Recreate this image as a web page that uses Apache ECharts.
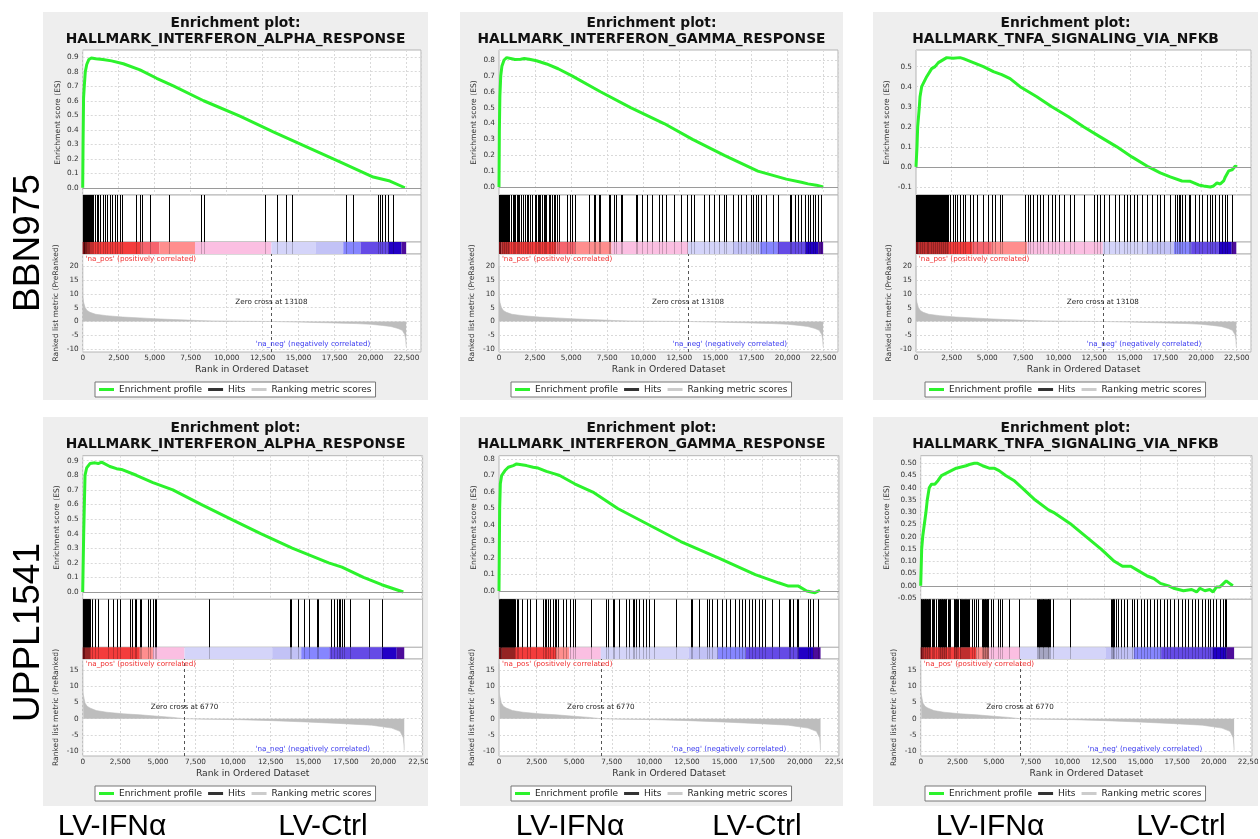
<!DOCTYPE html>
<html><head><meta charset="utf-8">
<script src="https://cdn.jsdelivr.net/npm/echarts@6/dist/echarts.min.js"></script>
<style>html,body{margin:0;padding:0;background:#fff}#c{width:1260px;height:839px}</style>
</head><body><div id="c"></div>
<script>
// ---------------- DATA ----------------
const geneSets = ['HALLMARK_INTERFERON_ALPHA_RESPONSE','HALLMARK_INTERFERON_GAMMA_RESPONSE','HALLMARK_TNFA_SIGNALING_VIA_NFKB'];
const cellLines = ['BBN975','UPPL1541'];
const groupLabels = ['LV-IFNα','LV-Ctrl'];
const zeroCross = [13108, 6770];
const legendNames = ['Enrichment profile','Hits','Ranking metric scores'];

// enrichment score curves [rank, ES]
const esBBN975_IFNA = [[0,0],[25,0.3],[60,0.62],[110,0.7],[180,0.8],[280,0.85],[430,0.885],[600,0.895],[900,0.89],[1400,0.885],[2000,0.875],[2822,0.855],[3979,0.813],[5136,0.755],[6294,0.702],[8400,0.6],[10923,0.494],[13237,0.386],[15552,0.282],[17867,0.178],[20182,0.074],[21339,0.046],[22382,0]];
const esBBN975_IFNG = [[0,0],[25,0.35],[60,0.57],[120,0.7],[200,0.76],[350,0.8],[534,0.815],[800,0.81],[1100,0.803],[1500,0.805],[1750,0.81],[2100,0.805],[2600,0.795],[3300,0.775],[4100,0.745],[5061,0.7],[7034,0.6],[9123,0.5],[11443,0.4],[13417,0.3],[15622,0.2],[17944,0.1],[19917,0.05],[20962,0.03],[21426,0.02],[22006,0.012],[22470,0]];
const esBBN975_TNFA = [[0,0],[70,0.1],[117,0.2],[234,0.3],[281,0.35],[398,0.4],[749,0.45],[1100,0.49],[1334,0.5],[1568,0.52],[2153,0.545],[2600,0.542],[3090,0.545],[3324,0.54],[4026,0.52],[4728,0.5],[5430,0.475],[6015,0.46],[6601,0.44],[7303,0.4],[8473,0.35],[9527,0.3],[10697,0.25],[11750,0.2],[12920,0.15],[14091,0.1],[15144,0.05],[16315,0],[17134,-0.03],[17836,-0.05],[18655,-0.07],[19240,-0.072],[19825,-0.09],[20176,-0.095],[20645,-0.1],[20879,-0.095],[21113,-0.08],[21347,-0.085],[21581,-0.07],[21698,-0.05],[21932,-0.02],[22166,-0.015],[22283,-0.02],[22400,0.005],[22518,0]];
const esUPPL1541_IFNA = [[0,0],[66,0.4],[155,0.8],[262,0.85],[483,0.88],[813,0.885],[1034,0.88],[1255,0.89],[1806,0.86],[2247,0.845],[2577,0.84],[3570,0.8],[4672,0.75],[5994,0.7],[7869,0.6],[9853,0.5],[11837,0.4],[13931,0.3],[16357,0.2],[17238,0.17],[18672,0.1],[19884,0.05],[21318,0]];
const esUPPL1541_IFNG = [[0,0],[44,0.5],[88,0.65],[176,0.7],[397,0.73],[617,0.75],[948,0.76],[1169,0.77],[1279,0.775],[1499,0.765],[1830,0.76],[2271,0.75],[2601,0.745],[3153,0.725],[3704,0.71],[4035,0.7],[5027,0.65],[6239,0.6],[7893,0.5],[9987,0.4],[12082,0.3],[14617,0.2],[17042,0.1],[18585,0.05],[19247,0.03],[19908,0.03],[20459,0],[21010,-0.01],[21342,0.005]];
const esUPPL1541_TNFA = [[0,0],[67,0.15],[135,0.2],[245,0.25],[357,0.3],[447,0.35],[582,0.4],[739,0.415],[964,0.415],[1188,0.43],[1413,0.45],[1750,0.46],[2087,0.47],[2424,0.48],[2761,0.485],[3098,0.49],[3322,0.495],[3659,0.5],[3884,0.5],[4221,0.49],[4670,0.48],[5007,0.48],[5344,0.47],[5793,0.45],[6355,0.43],[6917,0.4],[7815,0.35],[8714,0.31],[9051,0.3],[10286,0.25],[11297,0.2],[12308,0.15],[13206,0.1],[13768,0.08],[14329,0.08],[14891,0.06],[15453,0.04],[15902,0.03],[16351,0.01],[16913,0],[17250,-0.01],[17924,-0.02],[18486,-0.015],[18823,-0.025],[19047,-0.01],[19384,-0.02],[19721,-0.015],[19945,-0.025],[20170,-0.005],[20394,-0.005],[20507,-0.01],[20843,0.02],[21068,0.01],[21293,0]];

// hit positions (rank of each gene-set member)
const hitsBBN975_IFNA = [45,68,91,114,137,160,184,207,230,253,276,322,345,392,415,461,508,554,623,739,855,971,1086,1202,1387,1549,1665,1897,2012,2244,2360,2591,2707,3702,3980,4096,4675,6017,8193,8425,12661,13518,14120,14513,18286,18750,20532,20648,20764,20995,21227,21574];
const hitsBBN975_IFNG = [10,46,92,139,185,232,278,324,371,417,464,510,557,603,650,719,812,951,1044,1114,1230,1346,1415,1531,1694,1810,1926,2042,2158,2274,2506,2576,2669,2785,2854,2970,3086,3203,3272,3435,3551,3667,3783,3899,4015,4131,4711,4943,5059,5291,6220,6568,6684,6916,7032,7612,7729,7961,8077,8425,8541,9469,9585,9934,10282,10630,11094,11326,11558,12138,12603,13067,13299,13531,14227,14575,14924,15272,15620,15736,16200,16548,16780,17129,17477,17593,17825,17941,18173,18521,18985,19334,20146,20262,20494,20726,20958,21190,21422,21538,21770,21887,22119,22351];
const hitsBBN975_TNFA = [15,62,120,158,214,255,310,352,405,447,501,538,596,641,683,741,779,836,871,929,968,1024,1061,1118,1166,1207,1262,1301,1356,1397,1451,1490,1546,1588,1633,1689,1728,1784,1822,1879,1918,1975,2013,2068,2110,2163,2202,2248,2388,2623,2740,2903,3091,3278,3442,3793,4027,4261,4729,5081,5315,5549,5900,6017,7656,7890,8007,8241,8475,8709,8943,9294,9528,9763,9997,10348,10816,11050,11752,12455,12689,12923,13157,13508,13976,14210,14562,14796,15030,15264,15498,15849,16200,16552,16903,17137,17371,17839,18190,18307,18424,18541,18658,18892,19127,19244,19595,19829,20063,20414,20648,20765,21000,21234,21468,21702,21819,22170];
const hitsUPPL1541_IFNA = [10,40,65,95,131,160,197,230,263,300,329,360,395,430,461,594,814,1035,1696,2027,2248,2468,3174,3306,3460,3571,3791,3901,4342,4453,4673,4783,4894,8422,13758,13868,14309,14706,15037,15588,15654,16514,16690,16911,17021,17131,17242,17352,17793,19006,19888];
const hitsUPPL1541_IFNG = [10,38,67,101,133,166,199,231,265,297,332,364,398,431,464,497,530,563,596,628,662,697,729,761,795,828,861,893,927,960,993,1026,1059,1170,1280,1500,1831,2052,2493,2934,3044,3154,3264,3375,3595,3705,3816,3926,4257,4477,4698,4918,5028,6131,7123,7233,7564,7674,8005,8446,8667,8887,8997,9108,9328,9549,9769,9990,10320,11754,12746,12856,13297,13849,13959,14179,14510,14841,15061,15392,15723,15943,16164,16384,16605,16825,17046,17266,17487,17707,18148,18589,19251,19361,19581,19802,19912,20574,20684,20904,21235];
const hitsUPPL1541_TNFA = [12,48,87,131,177,222,266,311,356,401,446,491,536,581,626,761,828,895,1030,1210,1255,1300,1344,1389,1434,1479,1524,1569,1614,1659,1704,1749,1884,1929,1973,2243,2288,2333,2378,2423,2467,2512,2647,2702,2782,2847,2917,2981,3051,3121,3186,3251,3321,3501,3635,3770,3905,4174,4219,4264,4309,4354,4399,4444,4489,4534,4578,4623,4781,4938,5297,5410,5567,6016,6690,7925,7981,8038,8094,8150,8206,8262,8318,8375,8431,8487,8543,8599,8655,8711,8768,8824,9048,10166,12979,13035,13091,13147,13203,13316,13428,13653,13877,14102,14439,14551,14776,15001,15225,15450,15674,15899,16124,16348,16573,16797,17022,17247,17583,17808,18032,18257,18482,18707,18931,19156,19380,19605,19718,19942,20167,20392,20616,20728,20841];

// ranked list metric [rank, metric]
const rankedBBN975 = [[0,20],[12,9],[60,7],[160,5.1],[300,4],[508,3.3],[900,2.6],[1665,2.1],[2800,1.6],[3980,1.3],[5000,1.0],[6294,0.7],[7300,0.5],[7915,0.36],[9000,0.22],[10000,0.15],[11000,0.1],[12000,0.05],[13108,0],[14000,-0.1],[15000,-0.2],[16000,-0.35],[17000,-0.45],[18000,-0.6],[19000,-0.75],[20000,-1.0],[20800,-1.4],[21400,-1.8],[21900,-2.5],[22200,-3.2],[22380,-4.8],[22440,-6.5],[22470,-9]];
const rankedUPPL1541 = [[0,17],[12,8.5],[42,7.3],[153,4.8],[300,3.8],[483,3.3],[900,2.5],[1586,2.0],[2700,1.5],[3791,1.2],[5000,0.75],[5996,0.4],[6770,0],[8000,-0.15],[10406,-0.3],[12600,-0.6],[14816,-1.0],[17000,-1.45],[19226,-2.0],[20549,-2.9],[21100,-3.9],[21320,-5.9],[21360,-8],[21380,-9.8]];

// heat-map colour bar segments [startRank, endRank, colourLevel]
const colorBarBBN975 = [[0,160,0],[160,3980,1],[3980,5320,2],[5320,7800,3],[7800,13108,4],[13108,16200,5],[16200,18100,6],[18100,19300,7],[19300,21230,8],[21230,22150,9],[22150,22470,10]];
const colorBarUPPL1541 = [[0,150,0],[150,3800,1],[3800,4670,3],[4670,6770,4],[6770,12600,5],[12600,14530,6],[14530,16400,7],[16400,19890,8],[19890,20880,9],[20880,21380,10]];

// ---------------- STYLE / LAYOUT ----------------
const GREEN = '#2cf22c';
const PAL = ['#a3121a','#f43c3c','#f6646e','#ff8e8e','#fbbfe2','#d4d4f9','#c2c2f6','#8686ff','#654ae6','#2200c6','#4d0c9a'];
const FONT = "'DejaVu Sans', sans-serif";
const BIG = "'Liberation Sans', Arial, sans-serif";
const BORDER = '#b4b4b4';
const SPLIT = '#d9d9d9';
const TICK_FS = 7.3, NAME_FS = 7.6;

const COLS = [{bgL:43,bgR:428},{bgL:460,bgR:843},{bgL:873,bgR:1258}];
const ROWS = [
  {bgT:12,bgB:400,t1:23,t2:39.5,esTop:50,hitsTop:195,cbTop:242,cbBot:254,rankBot:352,legendTop:382},
  {bgT:417,bgB:806,t1:428,t2:444.5,esTop:455.7,hitsTop:599.3,cbTop:647.3,cbBot:659,rankBot:756,legendTop:786}
];
const rowCfg = [
  {ranked:rankedBBN975, cbar:colorBarBBN975, xmax:23500, rAxis:[-11,24.34,0.5,5], naPos:[200,22.4], naNeg:[16000,-8.2], zcY:7.0},
  {ranked:rankedUPPL1541, cbar:colorBarUPPL1541, xmax:22600, rAxis:[-11.5,18.4,0.5,5], naPos:[200,16.85], naNeg:[15300,-9.3], zcY:3.7}
];
const panels = [
  {row:0,col:0,set:0,es:esBBN975_IFNA,hits:hitsBBN975_IFNA,plotL:82.7,plotR:421,esAxis:[-0.05,0.95,0.05,0.1,1],esGap:20.5},
  {row:0,col:1,set:1,es:esBBN975_IFNG,hits:hitsBBN975_IFNG,plotL:499,plotR:838,esAxis:[-0.05,0.863,0.05,0.1,1],esGap:21},
  {row:0,col:2,set:2,es:esBBN975_TNFA,hits:hitsBBN975_TNFA,plotL:916,plotR:1251,esAxis:[-0.14,0.583,0.01,0.1,1],esGap:24.5},
  {row:1,col:0,set:0,es:esUPPL1541_IFNA,hits:hitsUPPL1541_IFNA,plotL:82.7,plotR:422.6,esAxis:[-0.05,0.934,0.05,0.1,1],esGap:21.5},
  {row:1,col:1,set:1,es:esUPPL1541_IFNG,hits:hitsUPPL1541_IFNG,plotL:499,plotR:838.9,esAxis:[-0.05,0.82,0.05,0.1,1],esGap:21},
  {row:1,col:2,set:2,es:esUPPL1541_TNFA,hits:hitsUPPL1541_TNFA,plotL:920.7,plotR:1252,esAxis:[-0.055,0.531,0.005,0.05,2],esGap:29.5}
];

function isMajor(v, major){ const q = v/major; return Math.abs(q-Math.round(q)) < 1e-6; }
function fmtMajor(major, dec){
  return v => { if (!isMajor(v, major)) return ''; if (Math.abs(v) < 1e-9) v = 0; return v.toFixed(dec); };
}
function splitColors(min, unit, major, color){
  const n = Math.round(major/unit);
  const first = Math.ceil(min/major - 1e-9)*major;
  const off = Math.round((first-min)/unit) % n;
  const a = []; for (let i=0;i<n;i++) a.push(i===off ? color : 'rgba(0,0,0,0)');
  return a;
}
const xFmt = v => (v % 2500 === 0) ? v.toLocaleString('en-US') : '';

const grid=[], xAxis=[], yAxis=[], series=[], legend=[], graphic=[];

panels.forEach((p, pi) => {
  const R = ROWS[p.row], C = COLS[p.col], rc = rowCfg[p.row];
  const w = p.plotR - p.plotL;
  const g0 = pi*4;
  const mk = (top, bottom) => ({left:p.plotL, top:top, width:w, height:bottom-top, show:true, backgroundColor:'#fff', borderColor:BORDER, borderWidth:1, containLabel:false, outerBoundsMode:'none'});
  grid.push(mk(R.esTop, R.hitsTop), mk(R.hitsTop, R.cbTop), mk(R.cbTop, R.cbBot), mk(R.cbBot, R.rankBot));

  const [eMin,eMax,eU,eMaj,eDec] = p.esAxis;
  const [rMin,rMax,rU,rMaj] = rc.rAxis;
  const splitX = {show:true, lineStyle:{color:SPLIT, type:[2,2], width:1}};
  const hidden = {show:false};
  // ES axes
  xAxis.push({type:'value', gridIndex:g0, min:0, max:rc.xmax, interval:2500, axisLabel:hidden, axisTick:hidden, axisLine:hidden, splitLine:splitX});
  yAxis.push({type:'value', gridIndex:g0, min:eMin, max:eMax, interval:eU, axisLine:hidden, axisTick:hidden,
    axisLabel:{fontSize:TICK_FS, color:'#333', fontFamily:FONT, margin:4, formatter:fmtMajor(eMaj,eDec), showMinLabel:true, showMaxLabel:true},
    splitLine:{show:true, lineStyle:{color:splitColors(eMin,eU,eMaj,SPLIT), type:[2,2], width:1}},
    name:'Enrichment score (ES)', nameLocation:'middle', nameGap:p.esGap, nameMoveOverlap:false,
    nameTextStyle:{fontSize:NAME_FS, color:'#333', fontFamily:FONT}});
  // hits axes
  xAxis.push({type:'value', gridIndex:g0+1, min:0, max:rc.xmax, show:false});
  yAxis.push({type:'value', gridIndex:g0+1, min:0, max:1, show:false});
  // colour bar axes
  xAxis.push({type:'value', gridIndex:g0+2, min:0, max:rc.xmax, show:false});
  yAxis.push({type:'value', gridIndex:g0+2, min:0, max:1, show:false});
  // ranked axes
  xAxis.push({type:'value', gridIndex:g0+3, min:0, max:rc.xmax, interval:2500, axisLine:hidden, axisTick:hidden,
    axisLabel:{fontSize:TICK_FS, color:'#333', fontFamily:FONT, margin:3, formatter:xFmt, showMinLabel:true, showMaxLabel:true},
    splitLine:splitX, name:'Rank in Ordered Dataset', nameLocation:'middle', nameGap:13.5, nameMoveOverlap:false,
    nameTextStyle:{fontSize:9.2, color:'#333', fontFamily:FONT}});
  yAxis.push({type:'value', gridIndex:g0+3, min:rMin, max:rMax, interval:rU, axisLine:hidden, axisTick:hidden,
    axisLabel:{fontSize:TICK_FS, color:'#333', fontFamily:FONT, margin:4, formatter:fmtMajor(rMaj,0), showMinLabel:true, showMaxLabel:true},
    splitLine:{show:true, lineStyle:{color:splitColors(rMin,rU,rMaj,SPLIT), type:[2,2], width:1}},
    name:'Ranked list metric (PreRanked)', nameLocation:'middle', nameGap:22.5, nameMoveOverlap:false,
    nameTextStyle:{fontSize:NAME_FS, color:'#333', fontFamily:FONT}});

  // colour bar
  const cbH = R.cbBot - R.cbTop;
  series.push({type:'custom', name:'colorbar'+pi, xAxisIndex:g0+2, yAxisIndex:g0+2, z:2, silent:true,
    data: rc.cbar.map(s => [s[0], s[1], s[2]]), encode:{x:[0,1]},
    renderItem:(params, api) => {
      const a = api.coord([api.value(0), 1]), b = api.coord([api.value(1), 0]);
      return {type:'rect', shape:{x:a[0], y:a[1], width:b[0]-a[0], height:b[1]-a[1]}, style:{fill:PAL[api.value(2)]}};
    }});
  // hits
  series.push({type:'custom', name:'Hits', xAxisIndex:g0+1, yAxisIndex:g0+1, z:5, clip:false, silent:true,
    data: p.hits.map(h => [h, 1]), encode:{x:0, y:1}, itemStyle:{color:'#000'},
    renderItem:(params, api) => {
      const t = api.coord([api.value(0), 1]), b = api.coord([api.value(0), 0]);
      const x = Math.round(t[0]) + 0.5;
      return {type:'group', children:[
        {type:'line', shape:{x1:x, y1:t[1], x2:x, y2:b[1]}, style:{stroke:'#000', lineWidth:1}},
        {type:'line', shape:{x1:x, y1:b[1], x2:x, y2:b[1]+cbH}, style:{stroke:'rgba(0,0,0,0.22)', lineWidth:1}}
      ]};
    }});
  // enrichment profile
  series.push({type:'line', name:'Enrichment profile', xAxisIndex:g0, yAxisIndex:g0, data:p.es, symbol:'none', showSymbol:false, z:4,
    lineStyle:{color:GREEN, width:3}, itemStyle:{color:GREEN},
    markLine:{silent:true, symbol:'none', label:{show:false}, lineStyle:{color:'#9a9a9a', type:'solid', width:1}, data:[{yAxis:0}]}});
  // ranking metric
  const zc = zeroCross[p.row];
  series.push({type:'line', name:'Ranking metric scores', xAxisIndex:g0+3, yAxisIndex:g0+3, data:rc.ranked, symbol:'none', showSymbol:false, z:3,
    lineStyle:{color:'#bdbdbd', width:0.6}, itemStyle:{color:'#cfcfcf'}, areaStyle:{color:'#bdbdbd', opacity:1},
    markLine:{silent:true, symbol:'none', label:{show:false}, lineStyle:{color:'#555', type:[3,3], width:1}, data:[{xAxis:zc}]},
    markPoint:{silent:true, symbol:'circle', symbolSize:0, data:[
      {coord:[zc, rc.zcY], label:{show:true, position:'inside', formatter:'Zero cross at '+zc, fontSize:7.2, color:'#222', fontFamily:FONT}},
      {coord:rc.naPos, label:{show:true, position:'right', distance:0, formatter:"'na_pos' (positively correlated)", fontSize:7.2, color:'#f03030', fontFamily:FONT}},
      {coord:rc.naNeg, label:{show:true, position:'inside', formatter:"'na_neg' (negatively correlated)", fontSize:7.2, color:'#3a3af0', fontFamily:FONT}}
    ]}});

  // legend
  const cx = (C.bgL + C.bgR)/2;
  legend.push({left: cx - 140.5, top: R.legendTop, orient:'horizontal', itemWidth:15, itemHeight:3, itemGap:6, padding:[3,4],
    borderColor:'#777', borderWidth:1, backgroundColor:'#fff', selectedMode:false,
    textStyle:{fontSize:9, color:'#222', fontFamily:FONT},
    data:[{name:legendNames[0], icon:'rect', itemStyle:{color:GREEN}},
          {name:legendNames[1], icon:'rect', itemStyle:{color:'#333'}},
          {name:legendNames[2], icon:'rect', itemStyle:{color:'#cccccc'}}]});

  // panel background & titles
  graphic.push({type:'rect', z:-10, silent:true, shape:{x:C.bgL, y:R.bgT, width:C.bgR-C.bgL, height:R.bgB-R.bgT}, style:{fill:'#eeeeee'}});
  graphic.push({type:'text', z:10, silent:true, x:cx, y:R.t1, style:{text:'Enrichment plot:', font:'bold 13.8px '+FONT, fill:'#111', align:'center', verticalAlign:'middle', textAlign:'center', textVerticalAlign:'middle'}});
  graphic.push({type:'text', z:10, silent:true, x:cx, y:R.t2, style:{text:geneSets[p.set], font:'bold 13.8px '+FONT, fill:'#111', align:'center', verticalAlign:'middle', textAlign:'center', textVerticalAlign:'middle'}});
});

// clip overflowing tick labels at panel edges (row 2)
[[428,460],[843,873],[1258,1260]].forEach(([a,b]) => {
  graphic.push({type:'rect', z:100, silent:true, shape:{x:a, y:ROWS[1].bgT, width:b-a, height:ROWS[1].bgB-ROWS[1].bgT}, style:{fill:'#fff'}});
});
// row labels
const rowLabelY = [243, 632.5];
cellLines.forEach((t, i) => {
  graphic.push({type:'text', z:10, silent:true, x:29, y:rowLabelY[i], rotation:Math.PI/2,
    style:{text:t, font:'37px '+BIG, fill:'#000', align:'center', verticalAlign:'middle', textAlign:'center', textVerticalAlign:'middle'}});
});
// group labels under each column
const groupX = [[112,323],[570,757],[990,1181]];
groupX.forEach(pair => pair.forEach((x, j) => {
  graphic.push({type:'text', z:10, silent:true, x:x, y:826.5,
    style:{text:groupLabels[j], font:'30px '+BIG, fill:'#000', align:'center', verticalAlign:'middle', textAlign:'center', textVerticalAlign:'middle'}});
}));

const chart = echarts.init(document.getElementById('c'), null, {renderer:'canvas'});
chart.setOption({
  animation:false, backgroundColor:'#ffffff',
  grid, xAxis, yAxis, series, legend, graphic
});
</script>
</body></html>
